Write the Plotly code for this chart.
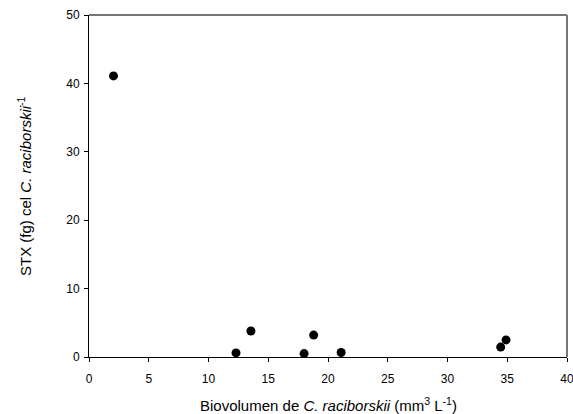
import plotly.graph_objects as go

biovolumen = [2.05, 12.3, 13.55, 18.0, 18.8, 21.1, 34.45, 34.9]
stx = [41.1, 0.6, 3.8, 0.5, 3.2, 0.65, 1.45, 2.5]

x_ticks = [0, 5, 10, 15, 20, 25, 30, 35, 40]
y_ticks = [0, 10, 20, 30, 40, 50]

fig = go.Figure()
fig.add_trace(go.Scatter(
    x=biovolumen, y=stx, mode="markers",
    marker=dict(color="black", size=9, line=dict(width=0)),
    showlegend=False, cliponaxis=False,
))

font = "Liberation Sans, Arial, sans-serif"
axis_common = dict(
    showgrid=False, zeroline=False, ticks="outside", ticklen=4, tickwidth=1,
    tickcolor="black", showline=True, linecolor="black", linewidth=1,
    tickfont=dict(family=font, size=12, color="black"),
    ticklabeloverflow="allow", automargin=False,
)
fig.update_xaxes(range=[0, 40], tickvals=x_ticks, ticktext=[str(v) for v in x_ticks],
                 ticklabelstandoff=7, **axis_common)
fig.update_yaxes(range=[0, 50], tickvals=y_ticks, ticktext=[str(v) for v in y_ticks],
                 ticklabelstandoff=2, **axis_common)

# top and right frame lines (gray)
fig.add_shape(type="line", xref="paper", yref="paper", x0=0, x1=1, y0=1, y1=1,
              line=dict(color="#777777", width=2))
fig.add_shape(type="line", xref="paper", yref="paper", x0=1, x1=1, y0=0, y1=1,
              line=dict(color="#777777", width=2))

fig.add_annotation(
    text="Biovolumen de <i>C. raciborskii</i> (mm<sup>3</sup> L<sup>-1</sup>)",
    xref="paper", yref="paper", x=0.5, y=-0.14, yanchor="middle", xanchor="center",
    showarrow=False, font=dict(family=font, size=15, color="black"),
)
fig.add_annotation(
    text="STX (fg) cel <i>C. raciborskii</i><sup>-1</sup>",
    xref="paper", yref="paper", x=-0.136, y=0.5, textangle=-90,
    xanchor="center", yanchor="middle",
    showarrow=False, font=dict(family=font, size=15, color="black"),
)

fig.update_layout(
    width=573, height=414,
    margin=dict(l=89, r=6, t=15, b=57, autoexpand=False),
    paper_bgcolor="white", plot_bgcolor="white",
)
fig.write_html("out.html")
